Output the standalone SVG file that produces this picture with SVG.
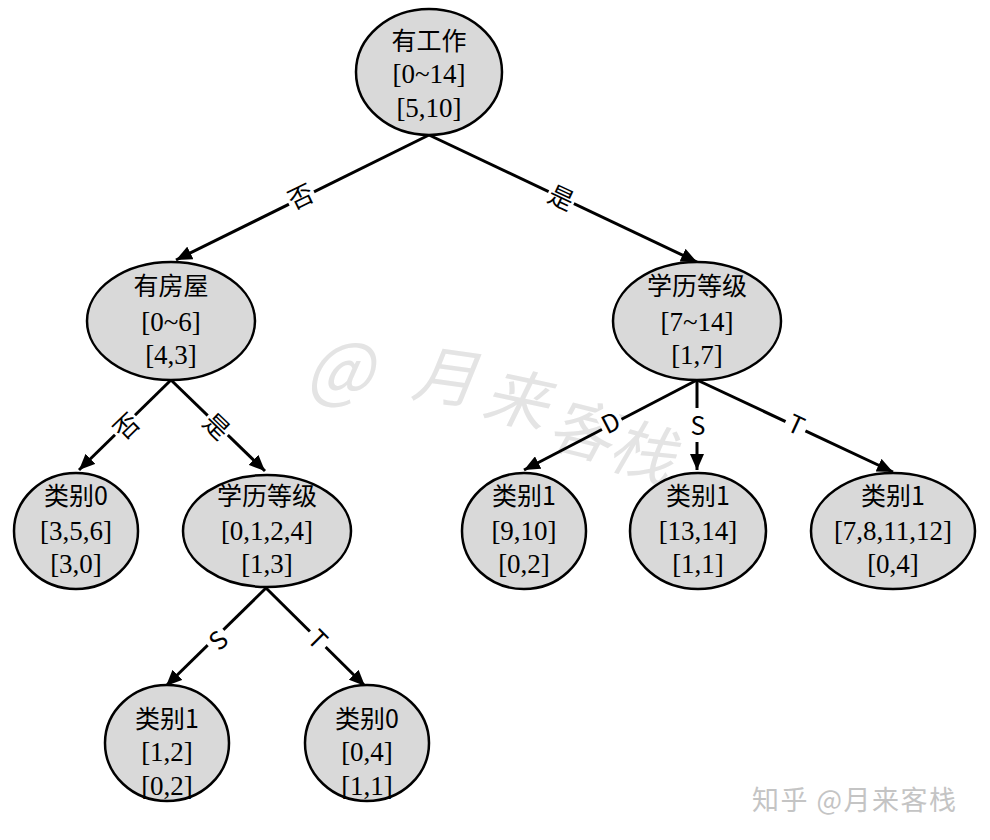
<svg xmlns="http://www.w3.org/2000/svg" width="990" height="840" viewBox="0 0 990 840">
<style>
.nd ellipse{fill:#d9d9d9;stroke:#000;stroke-width:2.5}
.t1{font-family:"Noto Sans CJK SC","Noto Sans",sans-serif;font-size:25px;fill:#000;text-anchor:middle}
.t2{font-family:"Liberation Serif",serif;font-size:27px;fill:#000;text-anchor:middle}
.e line{stroke:#000;stroke-width:3;marker-end:url(#ah)}
.lb{font-family:"Noto Sans CJK SC","Noto Sans",sans-serif;font-size:25px;fill:#000;text-anchor:middle;dominant-baseline:central}
.bg{fill:#fff}
.wm{font-family:"Noto Sans CJK SC",sans-serif;fill:#e4e4e4;font-style:italic}
</style>
<defs>
<marker id="ah" markerUnits="userSpaceOnUse" markerWidth="18" markerHeight="14" refX="16" refY="7" orient="auto"><path d="M0,0 L16,7 L0,14 z" fill="#000"/></marker>
</defs>
<rect width="990" height="840" fill="#fff"/>
<g id="watermark">
<text class="wm" font-size="72" x="305" y="395">@</text>
<text class="wm" font-size="64" transform="translate(410,395) rotate(8)">月</text>
<text class="wm" font-size="64" transform="translate(480,415) rotate(12)">来</text>
<text class="wm" font-size="64" transform="translate(545,445) rotate(14)">客</text>
<text class="wm" font-size="64" transform="translate(605,465) rotate(16)">栈</text>
</g>
<g id="connectors" class="e">
<line x1="429" y1="135" x2="176" y2="260"/>
<line x1="429" y1="135" x2="697" y2="262"/>
<line x1="171" y1="380" x2="79" y2="470"/>
<line x1="171" y1="380" x2="265" y2="471"/>
<line x1="697" y1="380" x2="524" y2="470"/>
<line x1="697" y1="380" x2="697" y2="470"/>
<line x1="697" y1="380" x2="893" y2="472"/>
<line x1="266" y1="588" x2="166" y2="686"/>
<line x1="266" y1="588" x2="365" y2="686"/>
</g>
<g id="edge-labels">
<g transform="translate(300,195) rotate(-26)"><rect class="bg" x="-14" y="-14" width="28" height="28"/><text class="lb">否</text></g>
<g transform="translate(562,196) rotate(25)"><rect class="bg" x="-14" y="-14" width="28" height="28"/><text class="lb">是</text></g>
<g transform="translate(125,425) rotate(-44)"><rect class="bg" x="-14" y="-14" width="28" height="28"/><text class="lb">否</text></g>
<g transform="translate(218,425) rotate(44)"><rect class="bg" x="-14" y="-14" width="28" height="28"/><text class="lb">是</text></g>
<g transform="translate(610,421) rotate(-27)"><rect class="bg" x="-11" y="-14" width="22" height="28"/><text class="lb">D</text></g>
<g transform="translate(698,424)"><rect class="bg" x="-11" y="-16" width="22" height="34"/><text class="lb">S</text></g>
<g transform="translate(797,423) rotate(25)"><rect class="bg" x="-11" y="-14" width="22" height="28"/><text class="lb">T</text></g>
<g transform="translate(217,639) rotate(-44)"><rect class="bg" x="-11" y="-14" width="22" height="28"/><text class="lb">S</text></g>
<g transform="translate(319,638) rotate(45)"><rect class="bg" x="-11" y="-14" width="22" height="28"/><text class="lb">T</text></g>
</g>
<g id="n-root" class="nd"><ellipse cx="429" cy="72" rx="73" ry="63"/><text class="t1" x="429" y="50">有工作</text><text class="t2" x="429" y="83">[0~14]</text><text class="t2" x="429" y="117">[5,10]</text></g>
<g id="n-house" class="nd"><ellipse cx="171" cy="321" rx="84" ry="59"/><text class="t1" x="171" y="295">有房屋</text><text class="t2" x="171" y="331">[0~6]</text><text class="t2" x="171" y="364">[4,3]</text></g>
<g id="n-edu1" class="nd"><ellipse cx="697" cy="321" rx="84" ry="59"/><text class="t1" x="697" y="295">学历等级</text><text class="t2" x="697" y="331">[7~14]</text><text class="t2" x="697" y="364">[1,7]</text></g>
<g id="n-c0a" class="nd"><ellipse cx="76" cy="531" rx="62" ry="58"/><text class="t1" x="76" y="505">类别0</text><text class="t2" x="76" y="540">[3,5,6]</text><text class="t2" x="76" y="573">[3,0]</text></g>
<g id="n-edu2" class="nd"><ellipse cx="267" cy="531" rx="84" ry="56"/><text class="t1" x="267" y="505">学历等级</text><text class="t2" x="267" y="540">[0,1,2,4]</text><text class="t2" x="267" y="573">[1,3]</text></g>
<g id="n-c1a" class="nd"><ellipse cx="524" cy="531" rx="62" ry="58"/><text class="t1" x="524" y="505">类别1</text><text class="t2" x="524" y="540">[9,10]</text><text class="t2" x="524" y="573">[0,2]</text></g>
<g id="n-c1b" class="nd"><ellipse cx="698" cy="531" rx="68" ry="58"/><text class="t1" x="698" y="505">类别1</text><text class="t2" x="698" y="540">[13,14]</text><text class="t2" x="698" y="573">[1,1]</text></g>
<g id="n-c1c" class="nd"><ellipse cx="893" cy="531" rx="82" ry="58"/><text class="t1" x="893" y="505">类别1</text><text class="t2" x="893" y="540">[7,8,11,12]</text><text class="t2" x="893" y="573">[0,4]</text></g>
<g id="n-c1d" class="nd"><ellipse cx="167" cy="743" rx="62" ry="58"/><text class="t1" x="167" y="728">类别1</text><text class="t2" x="167" y="761">[1,2]</text><text class="t2" x="167" y="795">[0,2]</text></g>
<g id="n-c0b" class="nd"><ellipse cx="367" cy="743" rx="62" ry="58"/><text class="t1" x="367" y="728">类别0</text><text class="t2" x="367" y="761">[0,4]</text><text class="t2" x="367" y="795">[1,1]</text></g>
<text x="752" y="810" font-family="Noto Sans CJK SC,sans-serif" font-size="27" letter-spacing="1.5" fill="#c4c4c4">知乎 @月来客栈</text>
</svg>
